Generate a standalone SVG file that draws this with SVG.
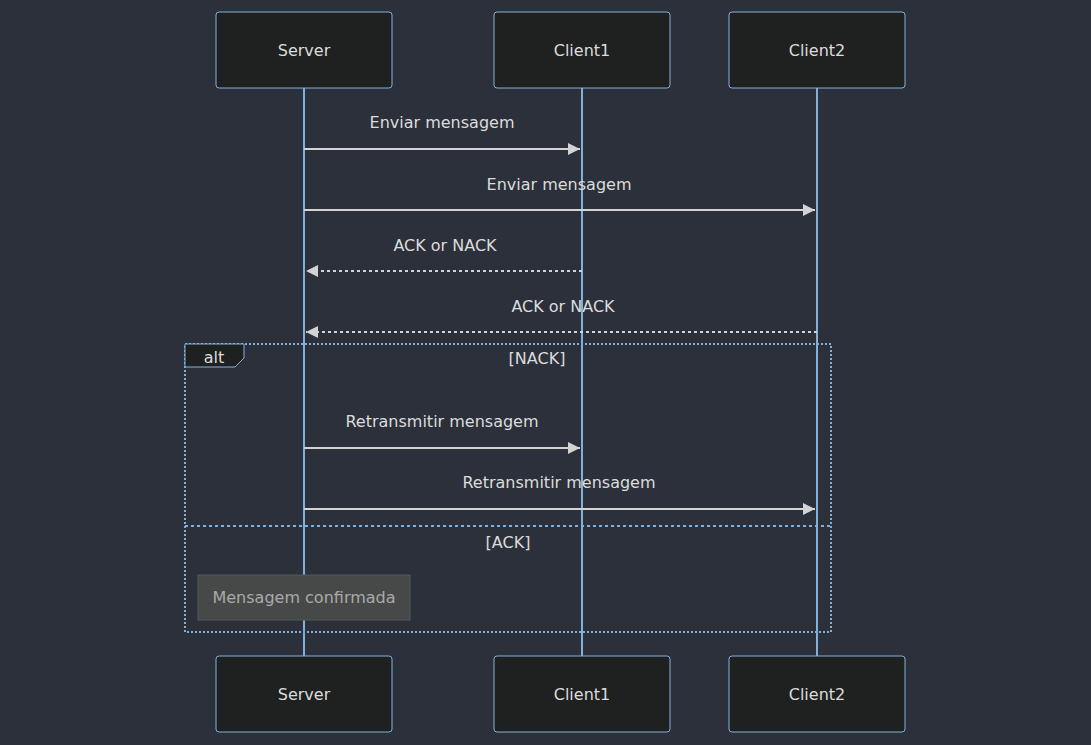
<svg xmlns="http://www.w3.org/2000/svg" width="1091" height="745" viewBox="0 0 1091 745">
<defs>
<style>
.bg{fill:#2b303b}
.actor rect{fill:#1f2020;stroke:#81b1db;stroke-width:1}
.actor text{fill:#dcdcdc;font-family:"DejaVu Sans",sans-serif;font-size:16px;text-anchor:middle;dominant-baseline:central}
.life{stroke:#81b1db;stroke-width:2}
.msg{stroke:#d3d3d3;stroke-width:2;fill:none}
.dash{stroke-dasharray:3,3}
.lbl{fill:#dcdcdc;font-family:"DejaVu Sans",sans-serif;font-size:16px;text-anchor:middle}
.loop{fill:none;stroke:#81b1db;stroke-width:2;stroke-dasharray:2,2}
.sep{fill:none;stroke:#81b1db;stroke-width:2;stroke-dasharray:3,3}
</style>
<marker id="arrow" viewBox="0 0 12 12" refX="12" refY="6" markerWidth="12" markerHeight="12" markerUnits="userSpaceOnUse" orient="auto">
<path d="M0,0 L12,6 L0,12 z" fill="#d3d3d3"/>
</marker>
</defs>
<rect class="bg" x="0" y="0" width="1091" height="745"/>
<g id="lifelines">
<line class="life" x1="304" y1="88" x2="304" y2="656"/>
<line class="life" x1="582" y1="88" x2="582" y2="656"/>
<line class="life" x1="817" y1="88" x2="817" y2="656"/>
</g>
<g id="actor-server-top" class="actor"><rect x="216" y="12" width="176" height="76" rx="3"/><text x="304" y="50">Server</text></g>
<g id="actor-client1-top" class="actor"><rect x="494" y="12" width="176" height="76" rx="3"/><text x="582" y="50">Client1</text></g>
<g id="actor-client2-top" class="actor"><rect x="729" y="12" width="176" height="76" rx="3"/><text x="817" y="50">Client2</text></g>
<g id="actor-server-bottom" class="actor"><rect x="216" y="656" width="176" height="76" rx="3"/><text x="304" y="694">Server</text></g>
<g id="actor-client1-bottom" class="actor"><rect x="494" y="656" width="176" height="76" rx="3"/><text x="582" y="694">Client1</text></g>
<g id="actor-client2-bottom" class="actor"><rect x="729" y="656" width="176" height="76" rx="3"/><text x="817" y="694">Client2</text></g>
<g id="alt-frame">
<rect class="loop" x="185" y="344" width="646" height="288"/>
<path d="M185,344 L244,344 L244,358 L235,367 L185,367 z" fill="#1f2020" stroke="#81b1db" stroke-width="1"/>
<text class="lbl" x="214" y="363">alt</text>
<text class="lbl" x="537" y="364">[NACK]</text>
<line class="sep" x1="185" y1="526" x2="831" y2="526"/>
<text class="lbl" x="508" y="548">[ACK]</text>
</g>
<g id="connectors">
<line class="msg" x1="304" y1="149" x2="580" y2="149" marker-end="url(#arrow)"/>
<line class="msg" x1="304" y1="210" x2="815" y2="210" marker-end="url(#arrow)"/>
<line class="msg dash" x1="582" y1="271" x2="306" y2="271" marker-end="url(#arrow)"/>
<line class="msg dash" x1="817" y1="332" x2="306" y2="332" marker-end="url(#arrow)"/>
<line class="msg" x1="304" y1="448" x2="580" y2="448" marker-end="url(#arrow)"/>
<line class="msg" x1="304" y1="509" x2="815" y2="509" marker-end="url(#arrow)"/>
</g>
<g id="labels">
<text class="lbl" x="442" y="128">Enviar mensagem</text>
<text class="lbl" x="559" y="190">Enviar mensagem</text>
<text class="lbl" x="445" y="251">ACK or NACK</text>
<text class="lbl" x="563" y="312">ACK or NACK</text>
<text class="lbl" x="442" y="427">Retransmitir mensagem</text>
<text class="lbl" x="559" y="488">Retransmitir mensagem</text>
</g>
<g id="note">
<rect x="198" y="575" width="212" height="45" fill="#474949" stroke="#575a5a" stroke-width="1"/>
<text x="304" y="603" fill="#a9a9a9" font-family="'DejaVu Sans',sans-serif" font-size="16" text-anchor="middle">Mensagem confirmada</text>
</g>
</svg>
